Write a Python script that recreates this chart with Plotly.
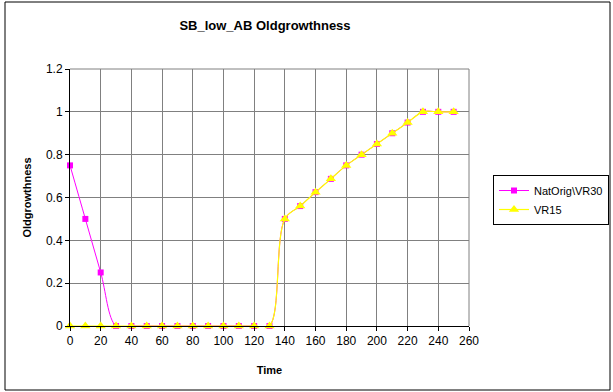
import plotly.graph_objects as go

time = [0, 10, 20, 30, 40, 50, 60, 70, 80, 90, 100, 110, 120, 130,
        140, 150, 160, 170, 180, 190, 200, 210, 220, 230, 240, 250]
nat_orig_vr30 = [0.75, 0.5, 0.25, 0, 0, 0, 0, 0, 0, 0, 0, 0, 0, 0,
                 0.5, 0.56, 0.625, 0.687, 0.75, 0.8, 0.85, 0.9, 0.95, 1, 1, 1]
vr15 = [0, 0, 0, 0, 0, 0, 0, 0, 0, 0, 0, 0, 0, 0,
        0.5, 0.56, 0.625, 0.687, 0.75, 0.8, 0.85, 0.9, 0.95, 1, 1, 1]

FONT = "Liberation Sans, Arial, sans-serif"

fig = go.Figure()
fig.add_trace(go.Scatter(
    x=time, y=nat_orig_vr30, name="NatOrig\\VR30", mode="lines+markers",
    line=dict(color="#FF00FF", width=1, shape="spline"),
    marker=dict(symbol="square", size=6, color="#FF00FF"),
    cliponaxis=False,
))
fig.add_trace(go.Scatter(
    x=time, y=vr15, name="VR15", mode="lines+markers",
    line=dict(color="#FFFF00", width=1.2, shape="spline"),
    marker=dict(symbol="triangle-up", size=9, color="#FFFF00"),
    cliponaxis=False,
))

# plot area: x 70..469, y 69..326 in a 613x392 page
L, R, T, B = 70, 613 - 469, 69, 392 - 326
pw, ph = 613 - L - R, 392 - T - B

fig.update_layout(
    width=613, height=392,
    margin=dict(l=L, r=R, t=T, b=B, autoexpand=False),
    paper_bgcolor="white", plot_bgcolor="white",
    font=dict(family=FONT, size=12, color="black"),
    title=dict(text="<b>SB_low_AB Oldgrowthness</b>", x=265 / 613, xanchor="center",
               xref="container", y=1 - 25 / 392, yanchor="middle",
               font=dict(size=13)),
    legend=dict(x=(493 - L) / pw, xanchor="left", y=(326 - 175) / ph, yanchor="top",
                bordercolor="black", borderwidth=1, bgcolor="white",
                font=dict(size=11), tracegroupgap=0, itemwidth=30),
    showlegend=True,
    shapes=[dict(type="rect", xref="paper", yref="paper",
                 x0=(5 - L) / pw, x1=(610 - L) / pw,
                 y0=(326 - 390) / ph, y1=(326 - 2) / ph,
                 line=dict(color="black", width=1))],
)
fig.update_xaxes(
    range=[0, 260], tick0=0, dtick=20, showgrid=True, gridcolor="#808080", gridwidth=1,
    showline=True, linecolor="black", linewidth=1, mirror=False, automargin=False,
    ticks="outside", ticklen=4, tickcolor="black", zeroline=False,
    title=dict(text="<b>Time</b>", font=dict(size=11), standoff=18),
)
fig.update_yaxes(
    range=[0, 1.2], showgrid=True, gridcolor="#808080", gridwidth=1,
    showline=True, linecolor="black", linewidth=1, automargin=False,
    ticks="outside", ticklen=4, tickcolor="black", zeroline=False,
    tickvals=[0, 0.2, 0.4, 0.6, 0.8, 1, 1.2],
    ticktext=["0", "0.2", "0.4", "0.6", "0.8", "1", "1.2"],
    title=dict(text="<b>Oldgrowthness</b>", font=dict(size=11), standoff=12),
)
# top/right plot border in gray
fig.add_shape(type="line", xref="paper", yref="paper", x0=0, x1=1, y0=1, y1=1,
              line=dict(color="#808080", width=1))
fig.add_shape(type="line", xref="paper", yref="paper", x0=1, x1=1, y0=0, y1=1,
              line=dict(color="#808080", width=1))

fig.write_html("out.html", config={"displayModeBar": False},
               post_script="document.body.style.margin='0';")
